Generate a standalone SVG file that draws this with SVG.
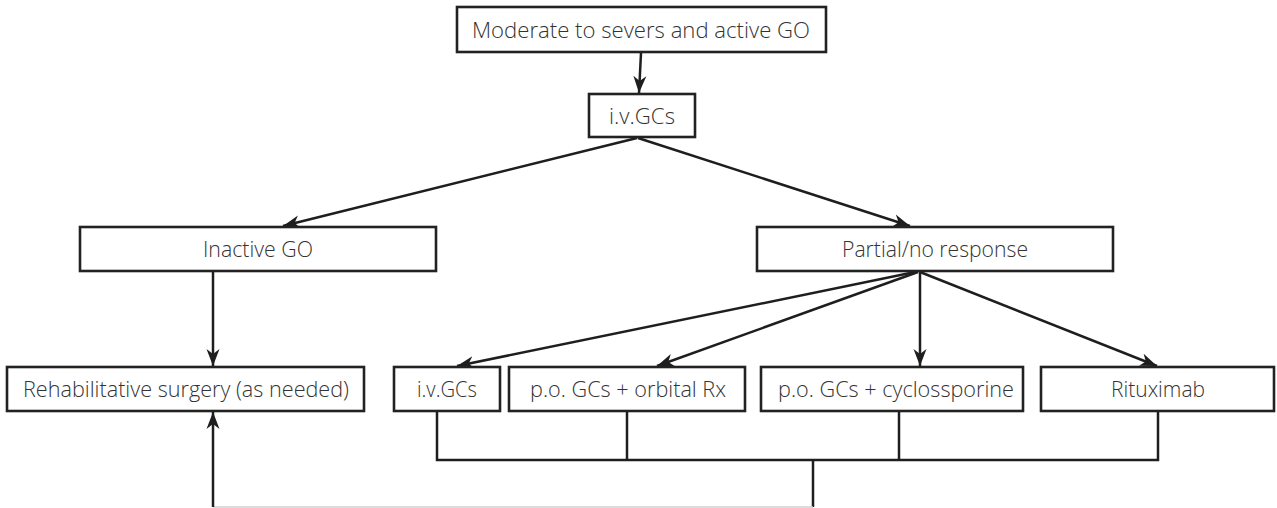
<svg xmlns="http://www.w3.org/2000/svg" width="1277" height="508" viewBox="0 0 1277 508">
<style>
.box{fill:#fff;stroke:#222;stroke-width:2.6}
.t{font-family:"Open Sans","Noto Sans",sans-serif;font-size:22px;font-weight:300;fill:#333;text-anchor:middle}
.c{fill:none;stroke:#1e1e1e;stroke-width:2.5}
.g{fill:none;stroke:#cfcfcf;stroke-width:1.5}
</style>
<defs>
<marker id="ah" markerUnits="userSpaceOnUse" markerWidth="18" markerHeight="14" refX="17" refY="7" orient="auto">
<path d="M0,0.5 L17,7 L0,13.5 L5,7 Z" fill="#1e1e1e"/>
</marker>
</defs>
<rect width="1277" height="508" fill="#fff"/>
<g id="connectors">
<line class="c" x1="641" y1="53" x2="639" y2="93" marker-end="url(#ah)"/>
<line class="c" x1="637" y1="138" x2="283" y2="226" marker-end="url(#ah)"/>
<line class="c" x1="638" y1="138" x2="910" y2="226" marker-end="url(#ah)"/>
<line class="c" x1="213" y1="272" x2="213" y2="366" marker-end="url(#ah)"/>
<line class="c" x1="915" y1="272" x2="457" y2="366" marker-end="url(#ah)"/>
<line class="c" x1="918" y1="272" x2="657" y2="366" marker-end="url(#ah)"/>
<line class="c" x1="920" y1="272" x2="920" y2="366" marker-end="url(#ah)"/>
<line class="c" x1="920" y1="272" x2="1157" y2="366" marker-end="url(#ah)"/>
<polyline class="c" points="437,412 437,460 1158,460 1158,412"/>
<line class="c" x1="627" y1="412" x2="627" y2="460"/>
<line class="c" x1="899" y1="412" x2="899" y2="460"/>
<line class="c" x1="813" y1="460" x2="813" y2="507"/>
<line class="g" x1="213" y1="507" x2="813" y2="507"/>
<line class="c" x1="213" y1="507" x2="213" y2="412" marker-end="url(#ah)"/>
</g>
<g id="n-top"><rect class="box" x="457" y="7" width="369" height="45"/><text class="t" x="641" y="38" textLength="338" lengthAdjust="spacingAndGlyphs">Moderate to severs and active GO</text></g>
<g id="n-ivgcs1"><rect class="box" x="589" y="94" width="106" height="43"/><text class="t" x="642" y="124" textLength="66" lengthAdjust="spacingAndGlyphs">i.v.GCs</text></g>
<g id="n-inactive"><rect class="box" x="80" y="227" width="356" height="44"/><text class="t" x="258" y="257" textLength="110" lengthAdjust="spacingAndGlyphs">Inactive GO</text></g>
<g id="n-partial"><rect class="box" x="757" y="227" width="356" height="44"/><text class="t" x="935" y="257" textLength="186" lengthAdjust="spacingAndGlyphs">Partial/no response</text></g>
<g id="n-rehab"><rect class="box" x="7" y="367" width="357" height="44"/><text class="t" x="186" y="397" textLength="326" lengthAdjust="spacingAndGlyphs">Rehabilitative surgery (as needed)</text></g>
<g id="n-ivgcs2"><rect class="box" x="394" y="367" width="106" height="44"/><text class="t" x="447" y="397" textLength="60" lengthAdjust="spacingAndGlyphs">i.v.GCs</text></g>
<g id="n-orbital"><rect class="box" x="509" y="367" width="236" height="44"/><text class="t" x="628" y="397" textLength="196" lengthAdjust="spacingAndGlyphs">p.o. GCs + orbital Rx</text></g>
<g id="n-cyclo"><rect class="box" x="761" y="367" width="262" height="44"/><text class="t" x="896" y="397" textLength="236" lengthAdjust="spacingAndGlyphs">p.o. GCs + cyclossporine</text></g>
<g id="n-ritux"><rect class="box" x="1041" y="367" width="233" height="44"/><text class="t" x="1158" y="397" textLength="94" lengthAdjust="spacingAndGlyphs">Rituximab</text></g>
</svg>
